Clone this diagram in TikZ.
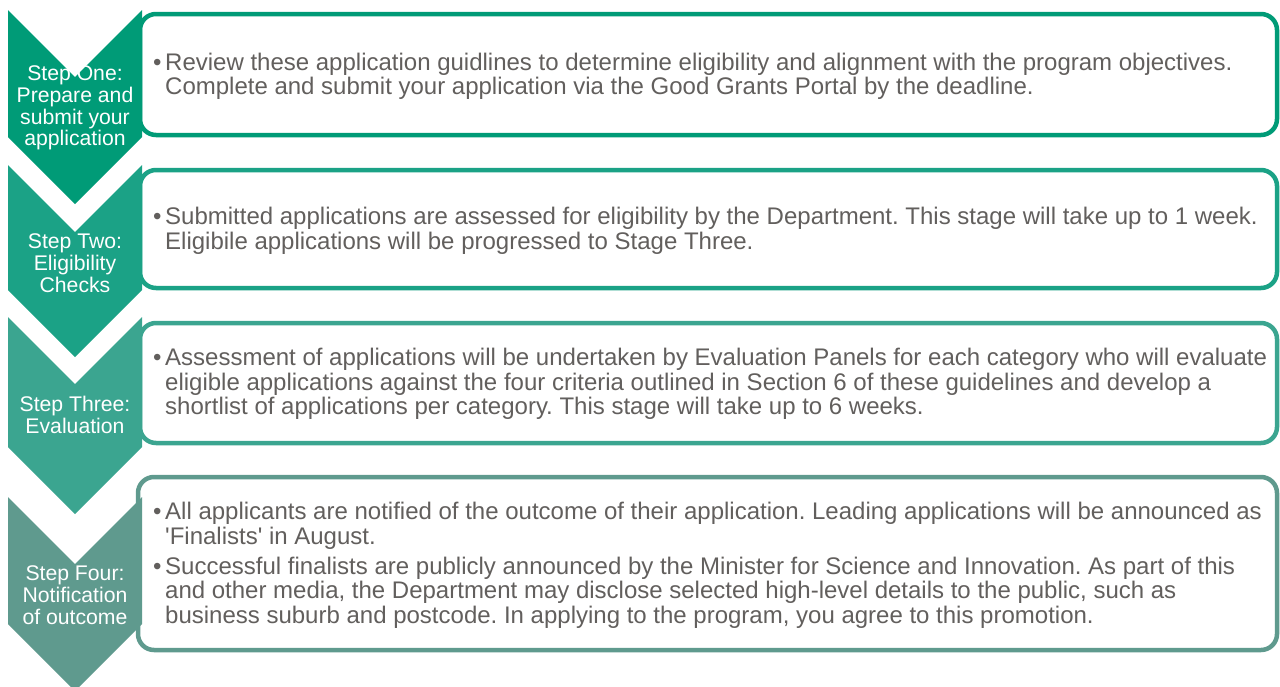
\documentclass[tikz,border=0pt]{standalone}
\usepackage{fontspec}
\setmainfont{Liberation Sans}[Ligatures=TeXOff]
\frenchspacing

\definecolor{stepone}{RGB}{0,155,119}
\definecolor{steptwo}{RGB}{27,162,134}
\definecolor{stepthree}{RGB}{59,165,144}
\definecolor{stepfour}{RGB}{95,154,142}
\definecolor{greytext}{RGB}{98,95,93}

\tikzset{
  box/.style={draw=#1, fill=white, line width=4.5pt, rounded corners=16pt,
    minimum width=1137pt, inner sep=0pt, outer sep=0pt, anchor=north west},
  steplabel/.style={text=white, align=center, inner sep=0pt,
    font=\fontsize{21.2}{21.7}\selectfont},
  info/.style={text=greytext, anchor=west, inner sep=0pt,
    font=\fontsize{24}{24.6}\selectfont}
}

\begin{document}
\begin{tikzpicture}[x=1pt, y=-1pt]
    \useasboundingbox (0, 0) rectangle (1280, 686);

    % text boxes
    \node[box=stepone, minimum height=121pt] (b1) at (140, 14) {};
    \node[box=steptwo, minimum height=118pt] (b2) at (140, 170) {};
    \node[box=stepthree, minimum height=120pt] (b3) at (140, 323) {};
    \node[box=stepfour, minimum width=1139pt, minimum height=173pt] (b4) at (138, 477) {};

    % chevrons
    \foreach \c/\t/\b in {stepone/10/137, steptwo/165/290, stepthree/317/447, stepfour/497/624} {
      \fill[\c] (8, \t) -- (75, \t+67) -- (142, \t) -- (142, \b) -- (75, \b+67) -- (8, \b) -- cycle;
    }

    \node[steplabel] (s1) at (75, 108) {Step One:\\Prepare and\\submit your\\application};
    \node[steplabel] (s2) at (75, 263) {Step Two:\\Eligibility\\Checks};
    \node[steplabel] (s3) at (75, 415) {Step Three:\\Evaluation};
    \node[steplabel] (s4) at (75, 595) {Step Four:\\Notification\\of outcome};

    \node[info] (t1) at ([xshift=13pt, yshift=-3pt]b1.west) {\begin{tabular}{@{}p{12pt}@{}l@{}}
      \textbullet & Review these application guidlines to determine eligibility and alignment with the program objectives.\\
      & Complete and submit your application via the Good Grants Portal by the deadline.
    \end{tabular}};
    \node[info] (t2) at ([xshift=13pt, yshift=-3pt]b2.west) {\begin{tabular}{@{}p{12pt}@{}l@{}}
      \textbullet & Submitted applications are assessed for eligibility by the Department. This stage will take up to 1 week.\\
      & Eligibile applications will be progressed to Stage Three.
    \end{tabular}};
    \node[info] (t3) at ([xshift=13pt, yshift=-2pt]b3.west) {\begin{tabular}{@{}p{12pt}@{}l@{}}
      \textbullet & Assessment of applications will be undertaken by Evaluation Panels for each category who will evaluate\\
      & eligible applications against the four criteria outlined in Section 6 of these guidelines and develop a\\
      & shortlist of applications per category. This stage will take up to 6 weeks.
    \end{tabular}};
    \node[info] (t4) at ([xshift=15pt, yshift=-3pt]b4.west) {\begin{tabular}{@{}p{12pt}@{}l@{}}
      \textbullet & All applicants are notified of the outcome of their application. Leading applications will be announced as\\
      & 'Finalists' in August.\\[5pt]
      \textbullet & Successful finalists are publicly announced by the Minister for Science and Innovation. As part of this\\
      & and other media, the Department may disclose selected high-level details to the public, such as\\
      & business suburb and postcode. In applying to the program, you agree to this promotion.
    \end{tabular}};
  \end{tikzpicture}
\end{document}
